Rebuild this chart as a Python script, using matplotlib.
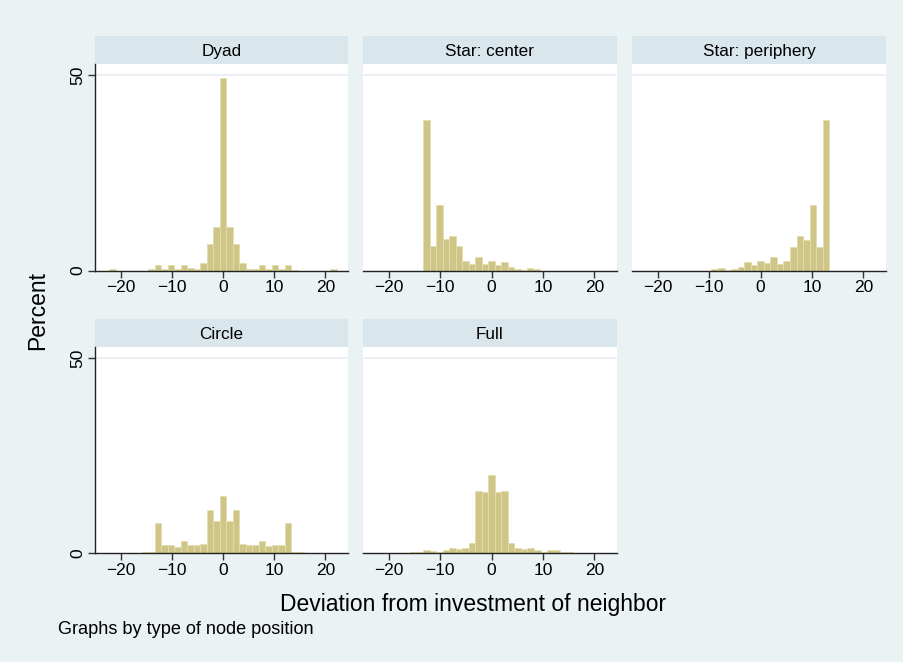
import matplotlib
matplotlib.use("Agg")
import matplotlib.pyplot as plt
import numpy as np

plt.rcParams['font.family'] = ['Liberation Sans', 'DejaVu Sans']

# ---- data (percent per bin) ----
panel_titles = ["Dyad", "Star: center", "Star: periphery", "Circle", "Full"]

dyad_start, dyad_width = -22.225, 1.27
dyad_pct = [0.3, 0, 0, 0, 0, 0, 0.3, 1.4, 0.3, 1.4, 0.5, 1.5, 0.7, 0.4, 2.0, 6.8, 11.0,
            49.3,
            11.0, 6.8, 2.0, 0.3, 0.5, 1.5, 0.5, 1.4, 0.3, 1.4, 0.2, 0, 0, 0, 0, 0, 0.3]

star_center_start, star_center_width = -13.26, 1.26
star_center_pct = [38.5, 6.3, 16.8, 8.0, 8.9, 6.3, 2.5, 1.7, 3.5, 1.7, 2.5, 1.4, 2.2,
                   1.0, 0.4, 0.1, 0.7, 0.4]

star_periph_start, star_periph_width = -9.55, 1.274
star_periph_pct = [0.3, 0.6, 0.1, 0.3, 1.0, 2.1, 1.5, 2.4, 1.8, 3.4, 1.7, 2.4, 6.1, 8.7,
                   7.8, 16.8, 6.1, 38.5]

circle_start, circle_width = -15.875, 1.27
circle_pct = [0.25, 0.25, 7.7, 2.1, 2.0, 1.7, 3.2, 2.2, 2.0, 2.4, 11.1, 8.2, 14.6, 8.2,
              11.1, 2.4, 2.1, 2.2, 3.2, 1.8, 2.0, 2.1, 7.7, 0.25, 0.25]

full_start, full_width = -15.875, 1.27
full_pct = [0.25, 0.25, 0.9, 0.6, 0.25, 0.85, 1.4, 1.2, 1.4, 2.6, 16.0, 15.6, 20.0, 15.6,
            16.0, 2.6, 1.4, 1.2, 1.4, 0.85, 0.35, 0.8, 0.85, 0.25, 0.25]

x_ticks = [-20, -10, 0, 10, 20]
y_ticks = [0, 50]

panels = [
    (dyad_start, dyad_width, dyad_pct),
    (star_center_start, star_center_width, star_center_pct),
    (star_periph_start, star_periph_width, star_periph_pct),
    (circle_start, circle_width, circle_pct),
    (full_start, full_width, full_pct),
]

# ---- style ----
W, H = 904, 662
bg = '#EAF2F3'
strip_c = '#D9E6EB'
bar_c = '#CEC586'
bar_edge = '#E3DDB0'
grid_c = '#E6EEF1'

fig = plt.figure(figsize=(W / 100, H / 100), dpi=100, facecolor=bg)

def frac(l, t, r, b):
    return [l / W, 1 - b / H, (r - l) / W, (b - t) / H]

cols = [(95, 348), (363, 617), (632, 886)]
rows = [(36, 64, 270.5), (319, 347, 553.3)]

for i, (start, width, pct) in enumerate(panels):
    r, c = divmod(i, 3)
    l, rr = cols[c]
    st, top, bot = rows[r]
    # strip
    sax = fig.add_axes(frac(l, st, rr, top))
    sax.set_facecolor(strip_c)
    sax.set_xticks([]); sax.set_yticks([])
    for s in sax.spines.values():
        s.set_visible(False)
    sax.text(0.5, 0.45, panel_titles[i], ha='center', va='center', fontsize=12.3,
             transform=sax.transAxes, color='black')
    # plot
    ax = fig.add_axes(frac(l, top, rr, bot))
    ax.set_facecolor('white')
    edges = start + width * np.arange(len(pct))
    ax.axhline(50, color=grid_c, lw=1.2, zorder=0)
    ax.bar(edges, pct, width=width, align='edge', color=bar_c, edgecolor=bar_edge,
           linewidth=0.6, zorder=2)
    ax.set_xlim(-25, 24.4)
    ax.set_ylim(0, 52.8)
    ax.set_xticks(x_ticks)
    ax.set_xticklabels([str(v).replace('-', '\u2212') for v in x_ticks], fontsize=12.5)
    ax.tick_params(axis='x', length=5, width=1, color='#333333', pad=2)
    for s in ['top', 'right']:
        ax.spines[s].set_visible(False)
    ax.spines['bottom'].set_color('#222222')
    ax.spines['bottom'].set_linewidth(1)
    if c == 0:
        ax.spines['left'].set_color('#222222')
        ax.spines['left'].set_linewidth(1)
        ax.set_yticks(y_ticks)
        ax.set_yticklabels([str(v) for v in y_ticks], fontsize=12.5, rotation=90,
                           va='center')
        ax.tick_params(axis='y', length=5, width=1, color='#333333', pad=2)
    else:
        ax.spines['left'].set_visible(False)
        ax.set_yticks([])

fig.text(473 / W, 1 - 604 / H, "Deviation from investment of neighbor", ha='center',
         va='center', fontsize=16.5)
fig.text(38 / W, 1 - 310 / H, "Percent", ha='center', va='center', rotation=90,
         fontsize=16.5)
fig.text(58 / W, 1 - 630 / H, "Graphs by type of node position", ha='left',
         va='center', fontsize=13.1)

fig.savefig("out.png", dpi=100, facecolor=bg)
